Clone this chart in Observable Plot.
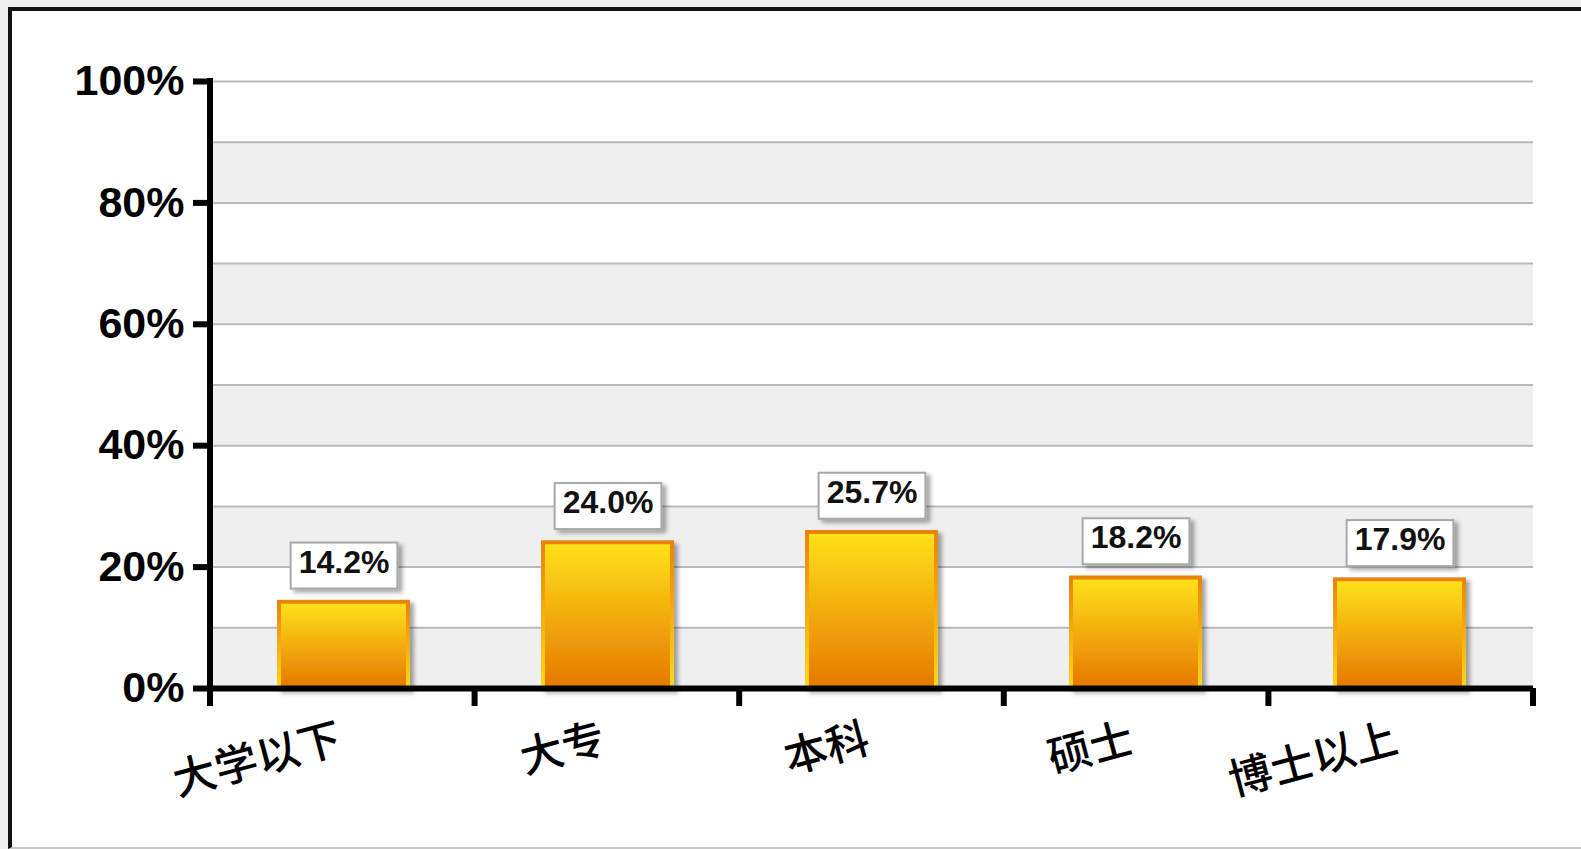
<!DOCTYPE html>
<html>
<head>
<meta charset="utf-8">
<script src="https://cdn.jsdelivr.net/npm/d3@7"></script>
<script src="https://cdn.jsdelivr.net/npm/@observablehq/plot@0.6"></script>
<style>
  html, body { margin: 0; padding: 0; overflow: hidden; background: #efefef; width: 1581px; height: 849px; }
  #frame { position: absolute; left: 8px; top: 7px; width: 1573px; height: 842px; box-sizing: border-box;
           background: #fff; border-left: 4px solid #111; border-top: 4px solid #111; border-bottom: 2px solid #c8c8c8; }
  #chart { position: absolute; left: 0; top: 0; }
</style>
</head>
<body>
<div id="frame"></div>
<div id="chart"></div>
<script>
// ---- data ----
const categories = ["大学以下", "大专", "本科", "硕士", "博士以上"];
const values = [14.2, 24.0, 25.7, 18.2, 17.9];
const valueLabels = ["14.2%", "24.0%", "25.7%", "18.2%", "17.9%"];
const yTicks = [0, 20, 40, 60, 80, 100];
const gridTicks = [0, 10, 20, 30, 40, 50, 60, 70, 80, 90, 100];
const bandLow = [0, 20, 40, 60, 80];
const bandHigh = [10, 30, 50, 70, 90];

const rows = categories.map((c, i) => ({cat: c, value: values[i], label: valueLabels[i]}));
const bands = bandLow.map((lo, i) => ({lo, hi: bandHigh[i]}));

const chart = Plot.plot({
  width: 1581,
  height: 849,
  marginLeft: 210,
  marginRight: 48,
  marginTop: 81,
  marginBottom: 161,
  style: {fontFamily: "'Liberation Sans', Arial, sans-serif", background: "transparent", overflow: "visible"},
  x: {domain: categories, paddingInner: 0.51, paddingOuter: 0.255, axis: null},
  y: {domain: [0, 100], axis: null},
  marks: [
    Plot.rect(bands, {y1: "lo", y2: "hi", fill: "#efefef"}),
    Plot.ruleY(gridTicks, {stroke: "#b9b9b9", strokeWidth: 2}),
    Plot.barY(rows, {x: "cat", y: "value", fill: "url(#barFill)", stroke: "url(#barStroke)", strokeWidth: 4}),
    Plot.text(rows, {x: "cat", y: "value", text: "label", dy: -40, lineAnchor: "middle",
      fontSize: 32, fontWeight: "bold", fill: "#111"}),
    Plot.ruleY([0], {stroke: "#000", strokeWidth: 6}),
    Plot.axisY(yTicks, {tickSize: 17, tickPadding: 9, strokeWidth: 6, stroke: "#000",
      tickFormat: d => d + "%", fontSize: 43, fontWeight: "bold", fill: "#000"}),
    Plot.text(categories, {x: d => d, frameAnchor: "bottom", dy: 63, rotate: -15, textAnchor: "end",
      lineAnchor: "bottom", fontSize: 43, fontWeight: 500, fill: "#000",
      fontFamily: "'Noto Sans CJK SC', sans-serif"})
  ]
});
chart.style.background = "transparent";
document.getElementById("chart").appendChild(chart);

// ---- decoration using the library's scales ----
const sel = d3.select(chart);
const defs = sel.insert("defs", ":first-child");
const g1 = defs.append("linearGradient").attr("id", "barFill").attr("x1", 0).attr("y1", 0).attr("x2", 0).attr("y2", 1);
g1.append("stop").attr("offset", "0%").attr("stop-color", "#ffe21a");
g1.append("stop").attr("offset", "100%").attr("stop-color", "#e67800");
const g2 = defs.append("linearGradient").attr("id", "barStroke").attr("x1", 0).attr("y1", 0).attr("x2", 0).attr("y2", 1);
g2.append("stop").attr("offset", "0%").attr("stop-color", "#e8840c");
g2.append("stop").attr("offset", "100%").attr("stop-color", "#ffd81a");
const f = defs.append("filter").attr("id", "shadow").attr("x", "-20%").attr("y", "-20%").attr("width", "150%").attr("height", "150%");
f.append("feDropShadow").attr("dx", 4).attr("dy", 3).attr("stdDeviation", 2).attr("flood-color", "#000").attr("flood-opacity", 0.35);

const barG = chart.querySelector('g[aria-label="bar"]');
if (barG) barG.setAttribute("filter", "url(#shadow)");

// label boxes behind value texts
const textGroups = chart.querySelectorAll('g[aria-label="text"]');
if (textGroups.length) {
  const tg = textGroups[0];
  tg.querySelectorAll("text").forEach(t => {
    const b = t.getBBox();
    const r = document.createElementNS("http://www.w3.org/2000/svg", "rect");
    r.setAttribute("x", b.x - 8);
    r.setAttribute("y", b.y - 1);
    r.setAttribute("width", b.width + 16);
    r.setAttribute("height", b.height + 10);
    r.setAttribute("fill", "#fff");
    r.setAttribute("stroke", "#a8a8a8");
    r.setAttribute("stroke-width", 2);
    r.setAttribute("filter", "url(#shadow)");
    if (t.getAttribute("transform")) r.setAttribute("transform", t.getAttribute("transform"));
    tg.insertBefore(r, t);
  });
}

// axis lines and category boundary ticks
const xs = chart.scale("x"), ys = chart.scale("y");
const [r0, r1] = xs.range;
const step = (r1 - r0) / categories.length;
const y0 = ys.apply(0), y100 = ys.apply(100);
const axisG = sel.append("g").attr("stroke", "#000").attr("stroke-width", 6);
axisG.append("line").attr("x1", r0).attr("x2", r0).attr("y1", y0 + 3).attr("y2", y100 - 3);
d3.range(categories.length + 1).forEach(i => {
  const x = r0 + i * step;
  axisG.append("line").attr("x1", x).attr("x2", x).attr("y1", y0).attr("y2", y0 + 18);
});
</script>
</body>
</html>
